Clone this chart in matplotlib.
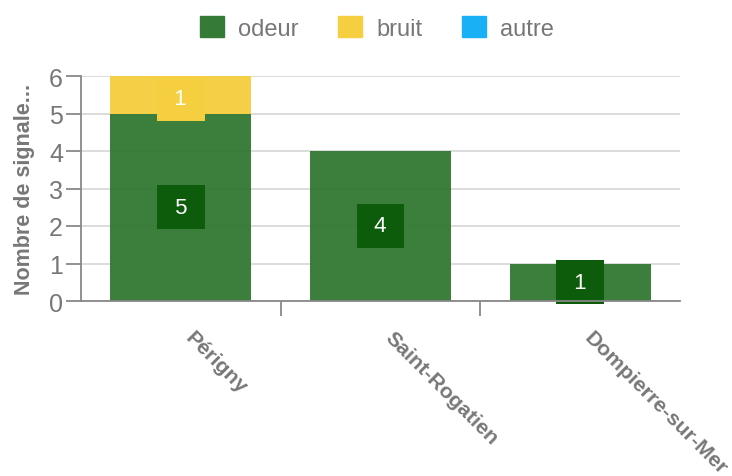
import numpy as np
import matplotlib.pyplot as plt
from matplotlib.patches import Patch

plt.rcParams['font.family'] = ['Liberation Sans', 'DejaVu Sans']

communes = ['Périgny', 'Saint-Rogatien', 'Dompierre-sur-Mer']
odeur = [5, 4, 1]
bruit = [1, 0, 0]
autre = [0, 0, 0]

series = [('odeur', odeur, '#357a35', '#0c5c0c'),
          ('bruit', bruit, '#f5cf40', '#f5cf40'),
          ('autre', autre, '#1ab0f5', '#1ab0f5')]

gris = '#777777'

fig = plt.figure(figsize=(7.32, 4.77), dpi=100)
ax = fig.add_axes([81/732, 1-302/477, 599/732, 225/477])

x = np.arange(len(communes))
bas = np.zeros(len(communes))
for nom, vals, col, col_lbl in series:
    vals = np.array(vals, dtype=float)
    ax.bar(x, vals, width=0.705, bottom=bas, color=col, alpha=0.97, zorder=2)
    for i, v in enumerate(vals):
        if v > 0:
            # garder l'etiquette dans la zone du graphique
            yl = min(bas[i] + v/2, 6 - 0.6)
            ax.text(x[i], yl, ' %d ' % v, ha='center', va='center',
                    color='white', fontsize=16, zorder=4,
                    bbox=dict(boxstyle='square,pad=0.52', fc=col_lbl, ec='none'))
    bas += vals

ax.set_xlim(-0.5, len(communes) - 0.5)
ax.set_ylim(0, 6)
ax.set_yticks(range(7))
ax.yaxis.grid(True, color='#d6d6d6', linewidth=1.2, zorder=0)
ax.set_axisbelow(True)

# etiquettes un peu decalees a droite du centre
ax.set_xticks(x + 0.07)
ax.set_xticklabels(communes, rotation=-45, ha='left', va='top',
                   rotation_mode='anchor', fontsize=15.4, fontweight='bold', color=gris)
ax.tick_params(axis='x', length=0, pad=19)
ax.set_xticks(x[:-1] + 0.5, minor=True)
ax.tick_params(axis='x', which='minor', length=11, width=1.3, color='#888888')

ax.tick_params(axis='y', length=11, width=1.3, color='#888888', labelsize=18,
               labelcolor=gris, pad=2)
ax.set_ylabel('Nombre de signale...', fontsize=15.5, fontweight='bold', color=gris,
              labelpad=10)

for s in ['top', 'right']:
    ax.spines[s].set_visible(False)
for s in ['left', 'bottom']:
    ax.spines[s].set_color('#888888')
    ax.spines[s].set_linewidth(1.3)
    ax.spines[s].set_zorder(5)

handles = [Patch(color=c, label=n) for n, _, c, _ in series]
fig.legend(handles=handles, loc='center', bbox_to_anchor=(377/732, 1-29/477), ncol=3,
           frameon=False, fontsize=17, labelcolor=gris, handlelength=1.0,
           handleheight=1.0, handletextpad=0.6, columnspacing=1.7)

fig.savefig('out.png', dpi=100)
